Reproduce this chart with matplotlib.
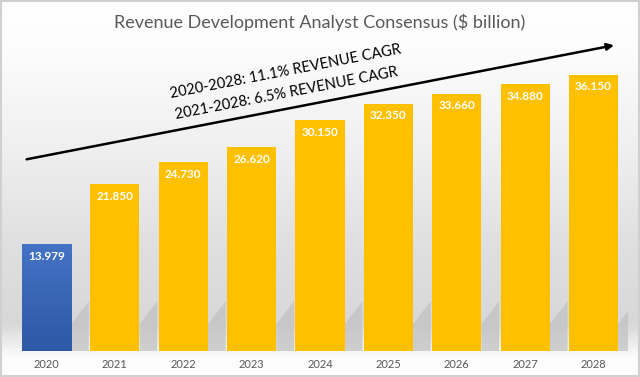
import numpy as np
import matplotlib.pyplot as plt
from matplotlib.colors import LinearSegmentedColormap
from matplotlib.patches import Polygon

years = ["2020", "2021", "2022", "2023", "2024", "2025", "2026", "2027", "2028"]
revenue = [13.979, 21.850, 24.730, 26.620, 30.150, 32.350, 33.660, 34.880, 36.150]
labels = ["13.979", "21.850", "24.730", "26.620", "30.150", "32.350", "33.660", "34.880", "36.150"]
cagr_lines = ["2020-2028: 11.1% REVENUE CAGR", "2021-2028: 6.5% REVENUE CAGR"]

plt.rcParams['font.family'] = ['Lato', 'DejaVu Sans']

fig = plt.figure(figsize=(6.4, 3.77), dpi=100)

# background gradient (white top -> light gray -> white floor)
bg = fig.add_axes([0, 0, 1, 1], zorder=0)
stops = [(0.0, "#ffffff"), (0.12, "#fdfdfd"), (0.40, "#efefef"), (0.66, "#dfdfdf"),
         (0.86, "#d8d8d8"), (0.91, "#ececec"), (0.95, "#fbfbfb"), (1.0, "#ffffff")]
bg_cmap = LinearSegmentedColormap.from_list("bg", stops)
bg.imshow(np.linspace(0, 1, 400).reshape(-1, 1), aspect="auto", cmap=bg_cmap,
          extent=[0, 1, 0, 1], origin="upper")
bg.set_xlim(0, 1)
bg.set_ylim(0, 1)
bg.axis("off")
# light frame
bg.add_patch(plt.Rectangle((0.001, 0.002), 0.997, 0.995, fill=False, ec="#d0d0d0", lw=1.5,
                           transform=bg.transAxes))

ax = fig.add_axes([12.3 / 640, 26 / 377, 615.4 / 640, 351 / 377], zorder=1)
ax.patch.set_alpha(0)
x = np.arange(len(years))
width = 0.72

# soft shadows behind bars
for xi, h in zip(x, revenue):
    xr = xi + width / 2
    ax.add_patch(Polygon([(xr, 0), (xr + 0.26, 0), (xr + 0.26, 6.5), (xr, 3.5)],
                         closed=True, fc="#c2c2c2", ec="none", alpha=0.75, zorder=1))

colors = ["#4472c4"] + ["#ffc000"] * (len(years) - 1)
bars = ax.bar(x, revenue, width=width, color=colors, edgecolor="none", zorder=2)

# gradient fill for the 2020 bar
b0 = bars[0]
blue_cmap = LinearSegmentedColormap.from_list("blue", ["#2f58a6", "#4472c4"])
grad = ax.imshow(np.linspace(1, 0, 100).reshape(-1, 1), cmap=blue_cmap, aspect="auto",
                 extent=[b0.get_x(), b0.get_x() + b0.get_width(), 0, b0.get_height()],
                 zorder=2.5)
grad.set_clip_path(b0)

for xi, h, lab in zip(x, revenue, labels):
    ax.text(xi, h - 1.6, lab, ha="center", va="center", color="white",
            fontsize=8.5, fontweight="bold", zorder=4)

ax.set_xlim(-0.5, 8.5)
ax.set_ylim(0, 45.9)
ax.set_xticks(x)
ax.set_xticklabels(years, color="#595959", fontsize=8)
ax.tick_params(axis="x", length=0, pad=6)
ax.set_yticks([])
for s in ax.spines.values():
    s.set_visible(False)

# trend arrow
x0, y0 = -0.33, 25.0
x1, y1 = 8.34, 40.05
ax.annotate("", xy=(x1, y1), xytext=(x0, y0),
            arrowprops=dict(arrowstyle="-|>", color="black", lw=1.8, mutation_scale=10),
            zorder=5)
angle = np.degrees(np.arctan2(115, 593))
ax.text((286 - 12.3) / 68.4 - 0.5, (351 - 72) / 7.64, cagr_lines[0], rotation=angle,
        rotation_mode="anchor", ha="center", va="center", fontsize=10.5, color="black", zorder=5)
ax.text((287 - 12.3) / 68.4 - 0.5, (351 - 94) / 7.64, cagr_lines[1], rotation=angle,
        rotation_mode="anchor", ha="center", va="center", fontsize=10.5, color="black", zorder=5)

fig.text(0.5, 1 - 22 / 377, "Revenue Development Analyst Consensus ($ billion)",
         ha="center", va="center", fontsize=13, color="#595959", zorder=3)

fig.savefig("out.png", dpi=100)
